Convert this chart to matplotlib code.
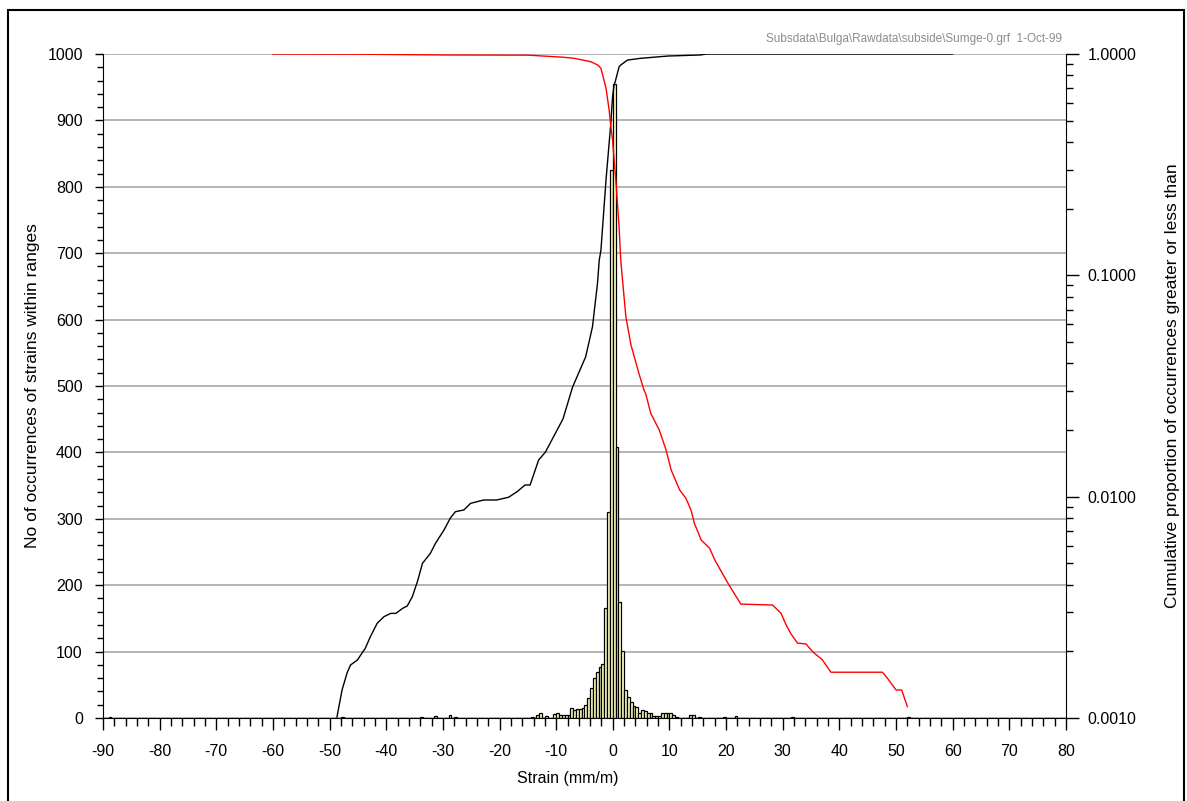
import matplotlib
matplotlib.use('Agg')
import matplotlib.pyplot as plt
from matplotlib.patches import Rectangle
from matplotlib.ticker import MultipleLocator, FixedLocator, LogLocator, FormatStrFormatter, NullFormatter

plt.rcParams['font.family'] = ['Liberation Sans', 'DejaVu Sans']
plt.rcParams['axes.unicode_minus'] = False

# histogram of strains (bin width 0.5 mm/m)
hist_centers = [-88.75, -47.75, -33.75, -31.25, -28.75, -27.75, -14.25, -13.25, -12.75, -11.75,
                -10.25, -9.75, -9.25, -8.75, -8.25, -7.75, -7.25, -6.75, -6.25, -5.75,
                -5.25, -4.75, -4.25, -3.75, -3.25, -2.75, -2.25, -1.75, -1.25, -0.75,
                -0.25, 0.25, 0.75, 1.25, 1.75, 2.25, 2.75, 3.25, 3.75, 4.25,
                4.75, 5.25, 5.75, 6.25, 6.75, 7.25, 7.75, 8.25, 8.75, 9.25,
                9.75, 10.25, 10.75, 11.25, 13.75, 14.25, 15.25, 19.75, 21.75, 31.75, 52.25]
hist_counts = [2, 2, 2, 3, 4, 2, 2, 5, 7, 3,
               6, 7, 4, 5, 5, 4, 15, 12, 13, 14,
               15, 20, 30, 45, 60, 70, 77, 82, 166, 310,
               825, 955, 408, 175, 101, 42, 32, 24, 18, 17,
               7, 12, 10, 8, 8, 3, 3, 3, 8, 8,
               8, 7, 5, 2, 5, 4, 2, 2, 3, 2, 2]

# cumulative proportion less than
less_x = [-48.7, -47.8, -46.9, -46.3, -45.1, -44.3, -43.7, -42.8, -41.6, -40.4,
          -39.2, -38.3, -37.1, -36.3, -35.4, -34.5, -33.6, -32.2, -31.3, -29.8,
          -28.7, -27.8, -26.3, -25.1, -22.8, -20.5, -18.4, -16.9, -15.5, -14.6,
          -13.1, -11.9, -8.8, -7.1, -4.8, -3.6, -2.7, -2.4, -2.1, -1.2,
          -0.35, -0.05, 0.23, 0.5, 1.1, 1.4, 2.6, 4.9, 9.7, 15.5, 16.5, 60]
less_p = [0.00101, 0.001338, 0.001602, 0.001736, 0.001828, 0.00196, 0.002065, 0.00233, 0.002679, 0.00287,
          0.00297, 0.00297, 0.00313, 0.003206, 0.00353, 0.00413, 0.005, 0.00555, 0.00616, 0.00707,
          0.00799, 0.00855, 0.00871, 0.00933, 0.00966, 0.00966, 0.00994, 0.01053, 0.01129, 0.01129,
          0.01464, 0.0159, 0.02244, 0.0313, 0.0428, 0.0584, 0.0923, 0.117, 0.130, 0.270,
          0.488, 0.640, 0.724, 0.763, 0.874, 0.892, 0.939, 0.956, 0.979, 0.990, 1.0, 1.0]

# cumulative proportion greater than
greater_x = [-60, -45, -30, -15, -12, -9, -6.8, -3.9, -2.6, -2.1, -1.2, -0.65, -0.35, -0.05,
             0.53, 1.1, 1.4, 2.3, 3.2, 4.6, 5.5, 5.8, 6.7, 8.2, 9.4, 10.3, 11.8, 12.9,
             13.8, 14.4, 15.6, 17.1, 18, 19, 20.5, 22.6, 28.2, 29.7, 30.6, 31.4, 32.6,
             34.1, 35.3, 37.0, 38.5, 47.6, 48.5, 50.0, 51.0, 52.0]
greater_p = [1.0, 0.998, 0.99, 0.988, 0.978, 0.968, 0.956, 0.923, 0.89, 0.862, 0.70, 0.558, 0.469, 0.409,
             0.27, 0.166, 0.117, 0.065, 0.0485, 0.0361, 0.0303, 0.0292, 0.0238, 0.02, 0.01625, 0.0132, 0.01072, 0.00983,
             0.0087, 0.00758, 0.00637, 0.00584, 0.00518, 0.00466, 0.00399, 0.00327, 0.00324, 0.00297, 0.00263, 0.00241, 0.00218,
             0.00216, 0.00199, 0.00183, 0.00161, 0.00161, 0.00151, 0.001338, 0.001338, 0.001125]

fig = plt.figure(figsize=(11.87, 8.01), dpi=100)
ax = fig.add_axes([103 / 1187, 83 / 801, 963 / 1187, 664 / 801])

ax.bar(hist_centers, hist_counts, width=0.5, color='#ffffc0', edgecolor='black', linewidth=0.9, zorder=2)
ax.set_xlim(-90, 80)
ax.set_ylim(0, 1000)
ax.xaxis.set_major_locator(MultipleLocator(10))
ax.xaxis.set_minor_locator(MultipleLocator(2))
ax.yaxis.set_major_locator(MultipleLocator(100))
ax.yaxis.set_minor_locator(MultipleLocator(20))
ax.grid(True, axis='y', color='#a8a8a8', linewidth=1.2)
ax.set_axisbelow(True)
ax.spines['top'].set_visible(False)
ax.spines['right'].set_visible(False)
ax.tick_params(axis='x', which='major', length=8.5, width=1, direction='out', labelsize=11.5, pad=10)
ax.tick_params(axis='x', which='minor', length=5.5, width=1, direction='out')
ax.tick_params(axis='y', which='major', length=5.5, width=1, direction='out', labelsize=11.5, pad=9)
ax.tick_params(axis='y', which='minor', length=4.5, width=1, direction='out')
ax.set_xlabel('Strain (mm/m)', fontsize=11.5)
ax.xaxis.set_label_coords(0.483, -0.08)
ax.set_ylabel('No of occurrences of strains within ranges', fontsize=12.5)
ax.yaxis.set_label_coords(-0.065, 0.5)

ax2 = ax.twinx()
ax2.plot(less_x, less_p, color='black', linewidth=1.0)
ax2.plot(greater_x, greater_p, color='red', linewidth=1.0)
ax2.set_yscale('log')
ax2.set_ylim(0.001, 1.0)
ax2.yaxis.set_major_locator(FixedLocator([0.001, 0.01, 0.1, 1.0]))
ax2.yaxis.set_major_formatter(FormatStrFormatter('%.4f'))
ax2.yaxis.set_minor_locator(LogLocator(base=10, subs=range(2, 10)))
ax2.yaxis.set_minor_formatter(NullFormatter())
for s in ['top', 'left', 'bottom']:
    ax2.spines[s].set_visible(False)
ax2.tick_params(axis='y', which='major', length=9.5, width=1, labelsize=11.5, pad=6)
ax2.tick_params(axis='y', which='minor', length=5, width=1)
ax2.set_ylabel('Cumulative proportion of occurrences greater or less than', fontsize=12.5)
ax2.yaxis.set_label_coords(1.103, 0.5)

ax.text(0.996, 1.014, 'Subsdata\\Bulga\\Rawdata\\subside\\Sumge-0.grf  1-Oct-99',
        transform=ax.transAxes, ha='right', va='bottom', fontsize=8.5, color='#8c8c8c')

fig.patches.append(Rectangle((8 / 1187, -0.01), (1184 - 8) / 1187, (791 / 801) + 0.01,
                             transform=fig.transFigure, fill=False, edgecolor='black', linewidth=1.5))

fig.savefig('out.png', dpi=100)
